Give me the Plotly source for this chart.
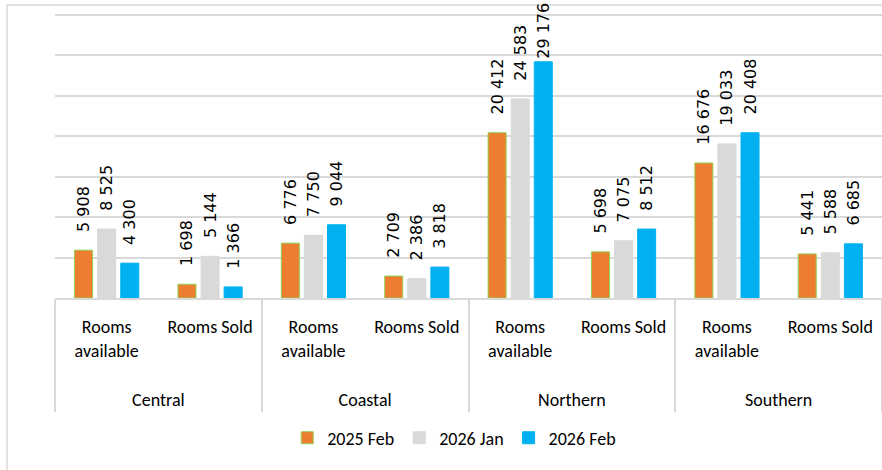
import plotly.graph_objects as go

regions = ["Central", "Central", "Coastal", "Coastal", "Northern", "Northern", "Southern", "Southern"]
metrics = ["Rooms<br>available<br><span style='font-size:68px'>\u00a0</span>", "Rooms Sold"] * 4
series_names = ["2025 Feb", "2026 Jan", "2026 Feb"]
feb_2025 = [5908, 1698, 6776, 2709, 20412, 5698, 16676, 5441]
jan_2026 = [8525, 5144, 7750, 2386, 24583, 7075, 19033, 5588]
feb_2026 = [4300, 1366, 9044, 3818, 29176, 8512, 20408, 6685]

colors = ["#ED7D31", "#D9D9D9", "#00B0F0"]
line_colors = ["#92D050", "#D9D9D9", "#00B0F0"]
label_font = dict(family="DejaVu Sans", size=16, color="#000000")
axis_font = dict(family="Carlito, Lato, sans-serif", size=18, color="#000000")

all_vals = feb_2025 + jan_2026 + feb_2026
peak = max(all_vals)

fig = go.Figure()
for name, vals, c, lc in zip(series_names, [feb_2025, jan_2026, feb_2026], colors, line_colors):
    # Pad labels upward (like the Excel label offset) except where the label would overflow the top
    templates = ["%{y:,}" if v >= 0.95 * peak else "\u00a0\u00a0\u00a0%{y:,}" for v in vals]
    fig.add_trace(go.Bar(
        name=name,
        x=[regions, metrics],
        y=vals,
        marker=dict(color=c, line=dict(color=lc, width=1)),
        texttemplate=templates,
        textposition="outside",
        textangle=-90,
        textfont=label_font,
        constraintext="none",
        cliponaxis=False,
    ))

fig.update_layout(
    width=882, height=470,
    margin=dict(l=55, r=0, t=13, b=172),
    paper_bgcolor="white", plot_bgcolor="white",
    barmode="group", bargap=0.33, bargroupgap=0.22,
    separators=". ",
    showlegend=True,
    legend=dict(orientation="h", xref="container", yref="container",
                x=0.515, xanchor="center", y=0.068, yanchor="middle",
                font=axis_font, traceorder="normal"),
    font=axis_font,
    shapes=[dict(type="rect", xref="paper", yref="paper",
                 x0=-0.058, x1=1.2, y0=-1.0, y1=1.028,
                 line=dict(color="#D9D9D9", width=1.5), layer="below")],
)
fig.update_yaxes(range=[0, 35200], tick0=0, dtick=5000, showticklabels=False,
                 showgrid=True, gridcolor="#D9D9D9", gridwidth=1.5,
                 zeroline=False, showline=False, ticks="")
fig.update_xaxes(showline=True, linecolor="#D9D9D9", linewidth=1.5,
                 tickfont=axis_font, showdividers=True, ticklabelstandoff=12,
                 dividercolor="#D9D9D9", dividerwidth=1.5, ticks="")

fig.write_html("out.html", config={"displayModeBar": False},
               post_script="document.body.style.margin='0';")
